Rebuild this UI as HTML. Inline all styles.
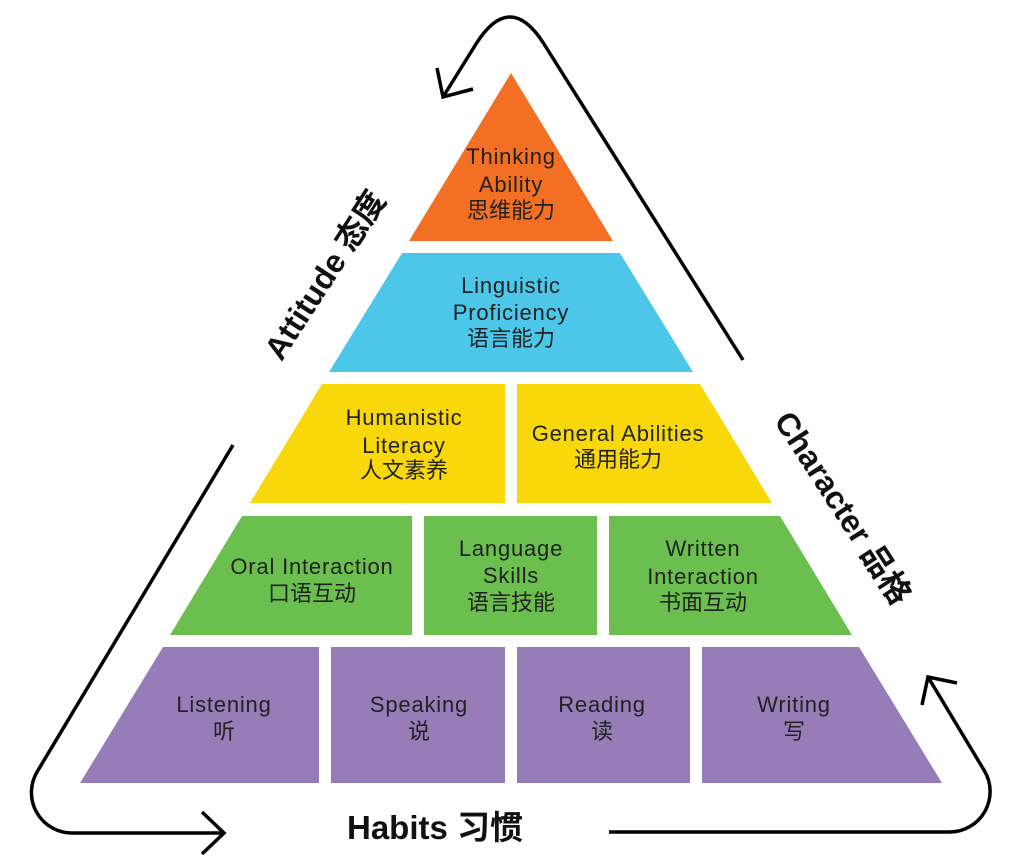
<!DOCTYPE html>
<html>
<head>
<meta charset="utf-8">
<style>
  html,body{margin:0;padding:0;background:#fff;}
  body{width:1024px;height:868px;overflow:hidden;}
  svg{display:block;}
  .t{font-family:"Liberation Sans","Noto Sans CJK SC",sans-serif;font-size:22px;fill:#222;text-anchor:middle;letter-spacing:0.8px;}
  .c{font-family:"Liberation Sans","Noto Sans CJK SC",sans-serif;font-size:22px;fill:#222;text-anchor:middle;}
  .b{font-family:"Liberation Sans","Noto Sans CJK SC",sans-serif;font-size:32px;font-weight:bold;fill:#111;}
</style>
</head>
<body>
<svg width="1024" height="868" viewBox="0 0 1024 868" xmlns="http://www.w3.org/2000/svg">
  <!-- Orange -->
  <polygon points="511,73 613,241 409,241" fill="#F36F23"/>
  <!-- Blue -->
  <polygon points="402,253 620,253 693,372 329,372" fill="#4CC7EA"/>
  <!-- Yellow -->
  <polygon points="322,384 505,384 505,503 250,503" fill="#F8D808"/>
  <polygon points="517,384 700,384 772,503 517,503" fill="#F8D808"/>
  <!-- Green -->
  <polygon points="242,516 412,516 412,635 170,635" fill="#6ABF4E"/>
  <rect x="424" y="516" width="173" height="119" fill="#6ABF4E"/>
  <polygon points="609,516 780,516 852,635 609,635" fill="#6ABF4E"/>
  <!-- Purple -->
  <polygon points="163,647 319,647 319,783 80,783" fill="#967DB8"/>
  <rect x="331" y="647" width="174" height="136" fill="#967DB8"/>
  <rect x="517" y="647" width="173" height="136" fill="#967DB8"/>
  <polygon points="702,647 859,647 942,783 702,783" fill="#967DB8"/>

  <!-- Labels -->
  <text class="t" x="511" y="164">Thinking</text>
  <text class="t" x="511" y="192">Ability</text>
  <text class="c" x="511" y="218">思维能力</text>

  <text class="t" x="511" y="293">Linguistic</text>
  <text class="t" x="511" y="320">Proficiency</text>
  <text class="c" x="511" y="346">语言能力</text>

  <text class="t" x="404" y="425">Humanistic</text>
  <text class="t" x="404" y="453">Literacy</text>
  <text class="c" x="404" y="478">人文素养</text>

  <text class="t" x="618" y="441">General Abilities</text>
  <text class="c" x="618" y="467">通用能力</text>

  <text class="t" x="312" y="574">Oral Interaction</text>
  <text class="c" x="312" y="601">口语互动</text>

  <text class="t" x="511" y="556">Language</text>
  <text class="t" x="511" y="583">Skills</text>
  <text class="c" x="511" y="610">语言技能</text>

  <text class="t" x="703" y="556">Written</text>
  <text class="t" x="703" y="584">Interaction</text>
  <text class="c" x="703" y="610">书面互动</text>

  <text class="t" x="224" y="712">Listening</text>
  <text class="c" x="224" y="739">听</text>
  <text class="t" x="419" y="712">Speaking</text>
  <text class="c" x="419" y="739">说</text>
  <text class="t" x="602" y="712">Reading</text>
  <text class="c" x="602" y="739">读</text>
  <text class="t" x="794" y="712">Writing</text>
  <text class="c" x="794" y="739">写</text>

  <!-- Arrows -->
  <g fill="none" stroke="#000" stroke-width="3.5" stroke-linecap="butt" stroke-linejoin="miter">
    <path d="M743,360 L544,44 Q510,-10 476,44 L443,97"/>
    <path d="M437,68 L443,97 L473,89"/>
    <path d="M233,445 L37,772 A40.5,40.5 0 0 0 71.5,833 L224,833"/>
    <path d="M202,812 L224,833 L202,854"/>
    <path d="M609,832 L949.5,832 A40.5,40.5 0 0 0 984.3,770.6 L928,677"/>
    <path d="M957,683 L928,677 L922,705"/>
  </g>

  <!-- Side labels -->
  <text class="b" x="325" y="275" text-anchor="middle" dominant-baseline="central" transform="rotate(-57 325 275)">Attitude 态度</text>
  <text class="b" x="843" y="508" text-anchor="middle" dominant-baseline="central" transform="rotate(57 843 508)">Character 品格</text>
  <text class="b" x="347" y="839" style="font-size:33px">Habits 习惯</text>
</svg>
</body>
</html>
